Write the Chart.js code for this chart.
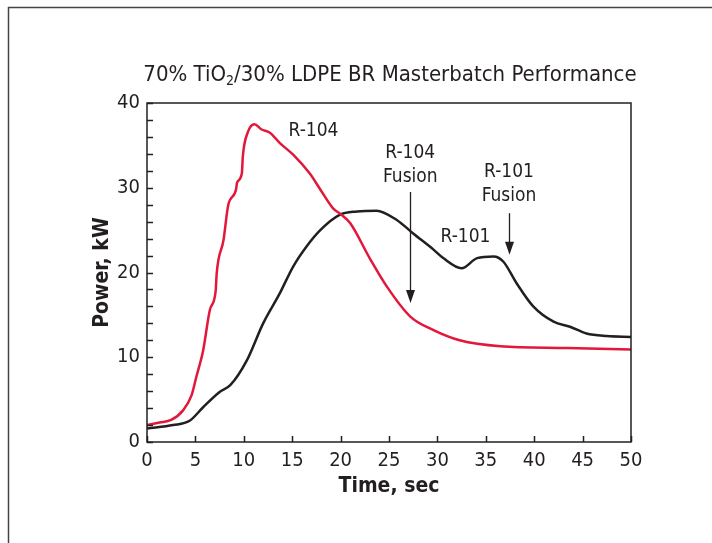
<!DOCTYPE html>
<html>
<head>
<meta charset="utf-8">
<script src="https://cdn.jsdelivr.net/npm/chart.js@4/dist/chart.umd.min.js"></script>
<style>
  html, body { margin: 0; padding: 0; background: #fff; }
  #wrap { width: 712px; height: 543px; }
</style>
</head>
<body>
<div id="wrap"><canvas id="myChart" width="712" height="543"></canvas></div>
<script>
// R-104 (red) curve
var r104Time = [0, 1.3, 2.5, 3.7, 4.6, 5.1, 5.8, 6.5, 7.1, 7.2, 7.9, 8.4, 9.2, 9.3, 9.8, 9.9, 10.4, 11.1, 11.8, 12.7, 13.7, 15.1, 16.8, 17.9, 19.2, 20.1, 21.0, 23.0, 24.8, 27.2, 29.6, 32.3, 36.5, 43.4, 50];
var r104Power = [2.0, 2.3, 2.6, 3.7, 5.5, 7.7, 10.8, 15.6, 17.9, 19.9, 23.8, 28.0, 29.8, 30.6, 31.7, 33.7, 36.5, 37.5, 36.9, 36.5, 35.3, 33.9, 31.7, 29.8, 27.6, 26.8, 25.8, 21.7, 18.3, 14.8, 13.2, 12.0, 11.3, 11.1, 10.9];
// R-101 (black) curve
var r101Time = [0, 2.7, 4.4, 5.8, 7.5, 8.6, 10.3, 12.0, 13.7, 15.1, 16.5, 17.9, 19.9, 21.7, 23.7, 25.8, 27.5, 29.6, 30.6, 32.5, 34.1, 35.8, 36.8, 38.2, 39.9, 42.0, 43.7, 45.4, 47.5, 50];
var r101Power = [1.6, 2.0, 2.5, 4.1, 5.9, 6.7, 9.6, 14.0, 17.5, 20.7, 23.1, 25.0, 26.8, 27.2, 27.3, 26.2, 24.6, 22.7, 21.7, 20.5, 21.7, 21.9, 21.3, 18.7, 16.0, 14.2, 13.6, 12.8, 12.5, 12.4];
// axis ticks
var xTicks = [0, 5, 10, 15, 20, 25, 30, 35, 40, 45, 50];
var yLabels = [0, 10, 20, 30, 40];
var yMinorStep = 2;

// annotation texts: [x, y] in data units
var textNotes = [
    { lines: ['R-104'], x: 17.2, y: 36.7 },
    { lines: ['R-104', 'Fusion'], x: 27.2, y: 34.1 },
    { lines: ['R-101', 'Fusion'], x: 37.4, y: 31.8 },
    { lines: ['R-101'], x: 32.9, y: 24.2 }
];
var arrowNotes = [
    { x: 27.2, from: 29.5, to: 16.4 },
    { x: 37.4, from: 27.0, to: 22.1 }
];

var FONT = "'Liberation Sans Narrow', 'DejaVu Sans Condensed', 'Roboto', sans-serif";
var INK = '#231f20';
var RED = '#e2173a';

function toPoints(xs, ys) {
    var pts = [];
    for (var i = 0; i < xs.length; i++) {
        pts.push({ x: xs[i], y: ys[i] });
    }
    return pts;
}

var decorPlugin = {
    id: 'decor',
    beforeDraw: function (chart) {
        var ctx = chart.ctx;
        ctx.save();
        ctx.fillStyle = '#fff';
        ctx.fillRect(0, 0, chart.width, chart.height);
        // page frame
        ctx.strokeStyle = '#444';
        ctx.lineWidth = 1.5;
        ctx.beginPath();
        ctx.moveTo(8.5, 543);
        ctx.lineTo(8.5, 7.5);
        ctx.lineTo(712, 7.5);
        ctx.stroke();
        // title with subscript
        ctx.fillStyle = INK;
        ctx.textBaseline = 'alphabetic';
        var big = "22px " + FONT;
        var small = "14px " + FONT;
        var a = '70% TiO', b = '2', c = '/30% LDPE BR Masterbatch Performance';
        ctx.font = big;
        var wa = ctx.measureText(a).width, wc = ctx.measureText(c).width;
        ctx.font = small;
        var wb = ctx.measureText(b).width;
        var x0 = 390 - (wa + wb + wc) / 2, yb = 81;
        ctx.font = big;
        ctx.fillText(a, x0, yb);
        ctx.font = small;
        ctx.fillText(b, x0 + wa, yb + 4);
        ctx.font = big;
        ctx.fillText(c, x0 + wa + wb, yb);
        ctx.restore();
    },
    afterDraw: function (chart) {
        var ctx = chart.ctx;
        var xs = chart.scales.x, ys = chart.scales.y;
        var area = chart.chartArea;
        ctx.save();
        ctx.strokeStyle = INK;
        ctx.lineWidth = 1.5;
        ctx.strokeRect(area.left, area.top, area.right - area.left, area.bottom - area.top);
        ctx.beginPath();
        for (var v = ys.min; v <= ys.max; v += yMinorStep) {
            var py = Math.round(ys.getPixelForValue(v)) + 0.5;
            ctx.moveTo(area.left, py);
            ctx.lineTo(area.left + 6, py);
        }
        xTicks.forEach(function (t) {
            var px = Math.round(xs.getPixelForValue(t)) + 0.5;
            ctx.moveTo(px, area.bottom);
            ctx.lineTo(px, area.bottom - 6);
        });
        ctx.stroke();
        // annotations
        ctx.fillStyle = INK;
        ctx.font = "19px " + FONT;
        ctx.textAlign = 'center';
        ctx.textBaseline = 'middle';
        textNotes.forEach(function (n) {
            var px = xs.getPixelForValue(n.x);
            var py = ys.getPixelForValue(n.y);
            n.lines.forEach(function (line, i) {
                ctx.fillText(line, px, py + i * 24);
            });
        });
        ctx.lineWidth = 1.3;
        arrowNotes.forEach(function (a) {
            var px = Math.round(xs.getPixelForValue(a.x)) + 0.5;
            var y1 = ys.getPixelForValue(a.from);
            var y2 = ys.getPixelForValue(a.to);
            ctx.beginPath();
            ctx.moveTo(px, y1);
            ctx.lineTo(px, y2 - 10);
            ctx.stroke();
            ctx.beginPath();
            ctx.moveTo(px - 4.5, y2 - 13);
            ctx.lineTo(px + 4.5, y2 - 13);
            ctx.lineTo(px, y2);
            ctx.closePath();
            ctx.fill();
        });
        ctx.restore();
    }
};

var canvas = document.getElementById('myChart');
var chart = new Chart(canvas, {
    type: 'line',
    data: {
        datasets: [
            {
                label: 'R-104',
                data: toPoints(r104Time, r104Power),
                borderColor: RED,
                borderWidth: 2.5,
                pointRadius: 0,
                cubicInterpolationMode: 'monotone'
            },
            {
                label: 'R-101',
                data: toPoints(r101Time, r101Power),
                borderColor: INK,
                borderWidth: 2.5,
                pointRadius: 0,
                cubicInterpolationMode: 'monotone'
            }
        ]
    },
    options: {
        responsive: false,
        animation: false,
        layout: { padding: { top: 103, right: 81, left: 0, bottom: 0 } },
        plugins: { legend: { display: false }, title: { display: false }, tooltip: { enabled: false } },
        scales: {
            x: {
                type: 'linear',
                min: 0,
                max: 50,
                afterFit: function (scale) { scale.height = 101; },
                afterBuildTicks: function (scale) {
                    scale.ticks = xTicks.map(function (v) { return { value: v }; });
                },
                grid: { display: false, drawTicks: false },
                border: { display: false },
                ticks: { color: INK, padding: 7, maxRotation: 0, font: { family: FONT, size: 20 } },
                title: {
                    display: true,
                    text: 'Time, sec',
                    color: INK,
                    padding: 44,
                    font: { family: FONT, size: 21, weight: 'bold' }
                }
            },
            y: {
                min: 0,
                max: 40,
                afterFit: function (scale) { scale.width = 147; },
                afterBuildTicks: function (scale) {
                    scale.ticks = yLabels.map(function (v) { return { value: v }; });
                },
                grid: { display: false, drawTicks: false },
                border: { display: false },
                ticks: { color: INK, padding: 7, font: { family: FONT, size: 20 } },
                title: {
                    display: true,
                    text: 'Power, kW',
                    color: INK,
                    padding: 90,
                    font: { family: FONT, size: 21, weight: 'bold' }
                }
            }
        }
    },
    plugins: [decorPlugin]
});
</script>
</body>
</html>
